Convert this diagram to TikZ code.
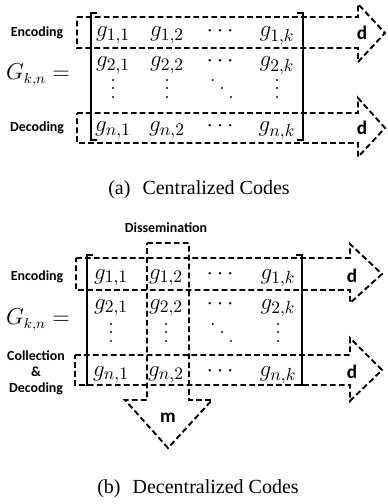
\documentclass[tikz,border=0pt]{standalone}
\usepackage{fontspec}
\newfontfamily\lblfont{Carlito}
\newfontfamily\capfont{Liberation Serif}
\newcommand{\myvd}{\vbox{\baselineskip5.3pt\lineskip0pt\lineskiplimit-100pt\hbox{.}\hbox{.}\hbox{.}}}
\newcommand{\mydd}{\hbox{\raise10.6pt\hbox{.}\kern2pt\raise5.3pt\hbox{.}\kern2pt\hbox{.}}}
\tikzset{
  dsh/.style={dash pattern=on 3.6pt off 2pt, line width=1.2pt, line join=miter},
  brk/.style={line width=0.9pt},
  ent/.style={font=\fontsize{15}{18}\selectfont, inner sep=0pt, anchor=base},
  dotn/.style={font=\fontsize{15}{18}\selectfont, inner sep=0pt},
  gl/.style={font=\fontsize{13.5}{16}\selectfont, inner sep=0pt},
  lab/.style={font=\lblfont\bfseries\fontsize{8.7}{10.5}\selectfont, align=center, inner sep=0pt},
  big/.style={font=\lblfont\bfseries\fontsize{12}{14}\selectfont, inner sep=0pt},
  captxt/.style={font=\capfont\fontsize{12.5}{15}\selectfont, inner sep=0pt}
}
\begin{document}
\begin{tikzpicture}[x=0.625pt,y=-0.625pt]
\useasboundingbox (0,0) rectangle (387,504);
% ---------------- (a) ----------------
\draw[dsh] (77,17) -- (358,17) -- (358,4) -- (385,33) -- (358,62) -- (358,48) -- (77,48) -- cycle;
\draw[dsh] (77,113) -- (358,113) -- (358,98) -- (385,128) -- (358,157) -- (358,143) -- (77,143) -- cycle;
\draw[brk] (97,13) -- (91,13) -- (91,140) -- (97,140);
\draw[brk] (297,13) -- (303,13) -- (303,140) -- (297,140);
\node[ent] (a11) at (113,37) {$g_{1,1}$};
\node[ent] (a12) at (167,37) {$g_{1,2}$};
\node[ent] (a13) at (220,37) {$\cdots$};
\node[ent] (a14) at (277,37) {$g_{1,k}$};
\node[ent] (a21) at (113,67) {$g_{2,1}$};
\node[ent] (a22) at (167,67) {$g_{2,2}$};
\node[ent] (a23) at (220,67) {$\cdots$};
\node[ent] (a24) at (277,67) {$g_{2,k}$};
\node[dotn] (a31) at (113,89) {\myvd};
\node[dotn] (a32) at (167,89) {\myvd};
\node[dotn] (a33) at (222,89) {\mydd};
\node[dotn] (a34) at (277,89) {\myvd};
\node[ent] (a41) at (113,132) {$g_{n,1}$};
\node[ent] (a42) at (167,132) {$g_{n,2}$};
\node[ent] (a43) at (220,132) {$\cdots$};
\node[ent] (a44) at (277,132) {$g_{n,k}$};
\node[gl] (ga) at (38,75) {$G_{k,n} =$};
\node[lab] (enca) at (37,33) {Encoding};
\node[lab] (deca) at (37,128) {Decoding};
\node[big] (da1) at (362,33) {d};
\node[big] (da2) at (362,128) {d};
\node[captxt] (capa) at (199,190) {(a)\hspace{0.6em}Centralized Codes};
% ---------------- (b) ----------------
\draw[dsh] (76,258) -- (350,258) -- (350,244) -- (382,274) -- (350,303) -- (350,290) -- (76,290) -- cycle;
\draw[dsh] (75,355) -- (350,355) -- (350,338) -- (382,370) -- (350,401) -- (350,385) -- (75,385) -- cycle;
\draw[dsh] (147,243) -- (189,243) -- (189,400) -- (212,400) -- (168,448) -- (125,400) -- (147,400) -- cycle;
\draw[brk] (93,255) -- (87,255) -- (87,385) -- (93,385);
\draw[brk] (296,255) -- (302,255) -- (302,385) -- (296,385);
\node[ent] (b11) at (111,279) {$g_{1,1}$};
\node[ent] (b12) at (166,279) {$g_{1,2}$};
\node[ent] (b13) at (220,279) {$\cdots$};
\node[ent] (b14) at (278,279) {$g_{1,k}$};
\node[ent] (b21) at (111,309) {$g_{2,1}$};
\node[ent] (b22) at (166,309) {$g_{2,2}$};
\node[ent] (b23) at (220,309) {$\cdots$};
\node[ent] (b24) at (278,309) {$g_{2,k}$};
\node[dotn] (b31) at (111,333) {\myvd};
\node[dotn] (b32) at (166,333) {\myvd};
\node[dotn] (b33) at (222,333) {\mydd};
\node[dotn] (b34) at (278,333) {\myvd};
\node[ent] (b41) at (111,376) {$g_{n,1}$};
\node[ent] (b42) at (166,376) {$g_{n,2}$};
\node[ent] (b43) at (220,376) {$\cdots$};
\node[ent] (b44) at (278,376) {$g_{n,k}$};
\node[gl] (gb) at (38,320) {$G_{k,n} =$};
\node[lab] (dis) at (166,228) {Dissemination};
\node[lab] (encb) at (37,277) {Encoding};
\node[lab] (cdb) at (36,373) {Collection\\[-0.5pt]\&\\[-0.5pt]Decoding};
\node[big] (db1) at (352,276) {d};
\node[big] (db2) at (352,372) {d};
\node[big] (mb) at (168,418) {m};
\node[captxt] (capb) at (198,489) {(b)\hspace{0.6em}Decentralized Codes};
\end{tikzpicture}
\end{document}
